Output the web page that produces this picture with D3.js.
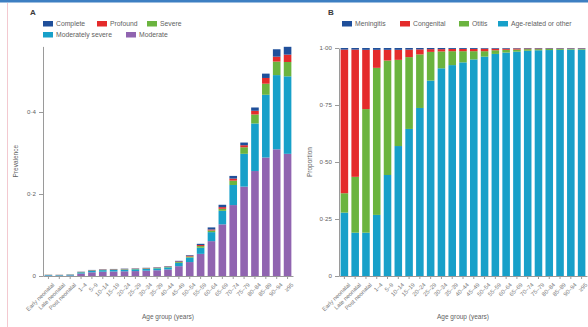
<!DOCTYPE html>
<html>
<head>
<meta charset="utf-8">
<script src="https://cdn.jsdelivr.net/npm/d3@7"></script>
<style>
  html, body { margin: 0; padding: 0; background: #fff; }
  svg { display: block; font-family: "Liberation Sans", Arial, sans-serif; }
</style>
</head>
<body>
<svg id="chart" width="588" height="327"></svg>
<script>
// Age groups shared by both panels
const ageGroups = ["Early neonatal", "Late neonatal", "Post neonatal", "1–4", "5–9", "10–14", "15–19",
  "20–24", "25–29", "30–34", "35–39", "40–44", "45–49", "50–54", "55–59", "60–64", "65–69",
  "70–74", "75–79", "80–84", "85–89", "90–94", "≥95"];

// Panel A: prevalence by severity
const severityNames = ["Moderate", "Moderately severe", "Severe", "Profound", "Complete"];
const moderate =         [0.001, 0.001, 0.0012, 0.006, 0.009, 0.0105, 0.011, 0.0115, 0.012, 0.013, 0.014, 0.016, 0.024, 0.034, 0.054, 0.085, 0.126, 0.173, 0.218, 0.256, 0.289, 0.309, 0.298];
const moderatelySevere = [0.0015, 0.0013, 0.0018, 0.003, 0.0038, 0.0038, 0.004, 0.0042, 0.0043, 0.0045, 0.0046, 0.005, 0.008, 0.011, 0.015, 0.022, 0.033, 0.049, 0.080, 0.116, 0.153, 0.181, 0.189];
const severe =           [0.0003, 0.0003, 0.0004, 0.0006, 0.0008, 0.0008, 0.0008, 0.0009, 0.0009, 0.001, 0.0011, 0.0012, 0.002, 0.0025, 0.004, 0.004, 0.005, 0.0106, 0.016, 0.022, 0.027, 0.033, 0.035];
const profound =         [0.0003, 0.0003, 0.0003, 0.0004, 0.0006, 0.0007, 0.0007, 0.0007, 0.0007, 0.0008, 0.0008, 0.0009, 0.0015, 0.002, 0.0025, 0.0025, 0.004, 0.005, 0.005, 0.009, 0.014, 0.012, 0.018];
const complete =         [0.0002, 0.0002, 0.0003, 0.0005, 0.0006, 0.0007, 0.0007, 0.0007, 0.0007, 0.0007, 0.0008, 0.0009, 0.0015, 0.0015, 0.003, 0.005, 0.0057, 0.0065, 0.0065, 0.008, 0.0106, 0.018, 0.019];
const prevalenceTicks = [0, 0.2, 0.4];

// Panel B: proportion by cause
const causeNames = ["Age-related or other", "Otitis", "Congenital", "Meningitis"];
const ageRelated = [0.278, 0.19, 0.19, 0.268, 0.443, 0.570, 0.645, 0.737, 0.857, 0.911, 0.925, 0.937, 0.950, 0.962, 0.974, 0.980, 0.984, 0.988, 0.990, 0.991, 0.992, 0.993, 0.993];
const otitis =     [0.085, 0.245, 0.542, 0.645, 0.502, 0.378, 0.315, 0.235, 0.126, 0.074, 0.061, 0.049, 0.036, 0.024, 0.016, 0.012, 0.009, 0.007, 0.005, 0.005, 0.004, 0.003, 0.003];
const congenital = [0.630, 0.558, 0.260, 0.079, 0.047, 0.044, 0.033, 0.022, 0.012, 0.010, 0.010, 0.010, 0.010, 0.011, 0.007, 0.005, 0.005, 0.003, 0.003, 0.002, 0.002, 0.002, 0.002];
const meningitis = [0.007, 0.007, 0.008, 0.008, 0.008, 0.008, 0.007, 0.006, 0.005, 0.005, 0.004, 0.004, 0.004, 0.003, 0.003, 0.003, 0.002, 0.002, 0.002, 0.002, 0.002, 0.002, 0.002];
const proportionTicks = [0, 0.25, 0.5, 0.75, 1];

const colors = {
  "Complete": "#1f4f9a",
  "Profound": "#e42b2b",
  "Severe": "#6bb43f",
  "Moderately severe": "#17a0c9",
  "Moderate": "#9064b0",
  "Meningitis": "#1f4f9a",
  "Congenital": "#e42b2b",
  "Otitis": "#6bb43f",
  "Age-related or other": "#17a0c9"
};

const textColor = "#5f5f5f";
const axisColor = "#9a9a9a";
const svg = d3.select("#chart");

// page frame strokes
svg.append("rect").attr("x", 0).attr("y", 0).attr("width", 588).attr("height", 2.5).attr("fill", "#3d7fc2");
svg.append("line").attr("x1", 7.5).attr("x2", 7.5).attr("y1", 3).attr("y2", 327)
  .attr("stroke", "#f3c9d0").attr("stroke-width", 1);

const dot = v => v === 0 ? "0" : v.toFixed(1).replace(".", "·");

function drawPanel(opts) {
  const { letter, letterX, xRange, yTop, yMax, ticks, tickFmt, yTitle, yTitleX, stackKeys, series, legend } = opts;
  const yBottom = 276;
  const g = svg.append("g");

  const x = d3.scaleBand().domain(ageGroups).range(xRange).paddingInner(0.3).paddingOuter(0.15);
  const y = d3.scaleLinear().domain([0, yMax]).range([yBottom, yTop]);

  const rows = ageGroups.map((a, i) => {
    const r = { age: a };
    stackKeys.forEach(k => r[k] = series[k][i]);
    return r;
  });
  const stacked = d3.stack().keys(stackKeys)(rows);

  g.selectAll("g.layer").data(stacked).join("g")
    .attr("fill", d => colors[d.key])
    .selectAll("rect").data(d => d).join("rect")
    .attr("x", d => x(d.data.age))
    .attr("width", x.bandwidth())
    .attr("y", d => y(d[1]))
    .attr("height", d => Math.max(0, y(d[0]) - y(d[1])));

  // y axis
  const yAxis = g.append("g").attr("transform", `translate(${xRange[0]},0)`)
    .call(d3.axisLeft(y).tickValues(ticks).tickFormat(tickFmt).tickSize(4).tickSizeOuter(0));
  yAxis.select(".domain").attr("stroke", axisColor);
  yAxis.selectAll(".tick line").attr("stroke", axisColor);
  yAxis.selectAll(".tick text").attr("fill", textColor).attr("font-size", 6.2)
    .attr("font-family", "Liberation Sans, Arial, sans-serif");

  // x axis with slanted age labels
  const xAxis = g.append("g").attr("transform", `translate(0,${yBottom})`)
    .call(d3.axisBottom(x).tickSize(3).tickSizeOuter(0));
  xAxis.select(".domain").attr("stroke", axisColor);
  xAxis.selectAll(".tick line").attr("stroke", axisColor);
  xAxis.selectAll(".tick text").attr("fill", "#7a7a7a").attr("font-size", 5.8)
    .attr("font-family", "Liberation Sans, Arial, sans-serif")
    .attr("text-anchor", "end")
    .attr("dy", 0)
    .attr("transform", "translate(2,5) rotate(-45)");

  // titles
  g.append("text").attr("x", letterX).attr("y", 15).attr("font-size", 8).attr("font-weight", "bold")
    .attr("fill", "#3a3a3a").text(letter);
  g.append("text").attr("transform", `translate(${yTitleX},${(yBottom + yTop) / 2}) rotate(-90)`)
    .attr("text-anchor", "middle").attr("font-size", 6.5).attr("fill", textColor).text(yTitle);
  g.append("text").attr("x", (xRange[0] + xRange[1]) / 2).attr("y", 319)
    .attr("text-anchor", "middle").attr("font-size", 6.5).attr("fill", textColor).text("Age group (years)");

  // legend
  legend.forEach(item => {
    g.append("rect").attr("x", item.x).attr("y", item.y - 3).attr("width", 10).attr("height", 5.5)
      .attr("fill", colors[item.name]);
    g.append("text").attr("x", item.x + 13).attr("y", item.y + 2).attr("font-size", 6.8)
      .attr("fill", textColor).text(item.name);
  });
}

drawPanel({
  letter: "A", letterX: 30,
  xRange: [43, 293], yTop: 276 - 0.56 * 410, yMax: 0.56,
  ticks: prevalenceTicks, tickFmt: dot,
  yTitle: "Prevalence", yTitleX: 18,
  stackKeys: severityNames,
  series: { "Moderate": moderate, "Moderately severe": moderatelySevere, "Severe": severe, "Profound": profound, "Complete": complete },
  legend: [
    { name: "Complete", x: 43, y: 24 },
    { name: "Profound", x: 97, y: 24 },
    { name: "Severe", x: 147, y: 24 },
    { name: "Moderately severe", x: 43, y: 35 },
    { name: "Moderate", x: 126, y: 35 }
  ]
});

drawPanel({
  letter: "B", letterX: 328,
  xRange: [339, 587], yTop: 48, yMax: 1,
  ticks: proportionTicks, tickFmt: v => v === 0 ? "0" : v.toFixed(2).replace(".", "·"),
  yTitle: "Proportion", yTitleX: 312,
  stackKeys: causeNames,
  series: { "Age-related or other": ageRelated, "Otitis": otitis, "Congenital": congenital, "Meningitis": meningitis },
  legend: [
    { name: "Meningitis", x: 342, y: 24 },
    { name: "Congenital", x: 400, y: 24 },
    { name: "Otitis", x: 459, y: 24 },
    { name: "Age-related or other", x: 498, y: 24 }
  ]
});
</script>
</body>
</html>
